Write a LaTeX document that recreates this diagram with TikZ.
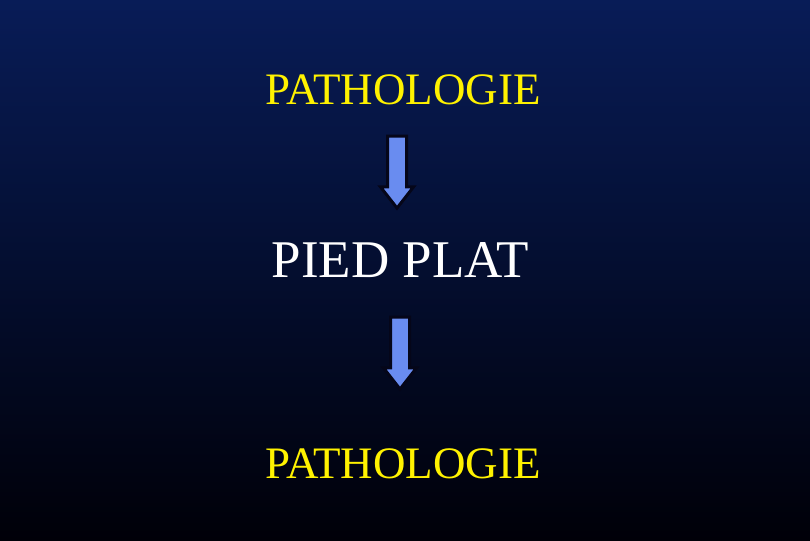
\documentclass[tikz,border=0pt]{standalone}
\usepackage{fontspec}
\setmainfont{Liberation Serif}
\usetikzlibrary{positioning,shapes.arrows}

\definecolor{bgtop}{RGB}{8,28,87}
\definecolor{bgbot}{RGB}{0,0,8}
\definecolor{arrfill}{RGB}{105,140,240}
\definecolor{arrline}{RGB}{5,6,25}

\begin{document}
\begin{tikzpicture}[x=1pt,y=1pt,
    title/.style={text=yellow,font=\fontsize{45}{47}\selectfont,inner sep=0pt,anchor=base},
    middle/.style={text=white,font=\fontsize{53}{55}\selectfont,inner sep=0pt,anchor=base},
    downarrow/.style={single arrow,draw=arrline,line width=3pt,fill=arrfill,rotate=-90,
        minimum height=72pt,minimum width=30pt,inner xsep=0pt,inner ysep=8pt,
        single arrow head extend=7pt,single arrow tip angle=76}]
        \shade[top color=bgtop,bottom color=bgbot] (0,0) rectangle (810,540);
        \useasboundingbox (0,0) rectangle (810,540);
        \node[title] (path1) at (403,435) {PATHOLOGIE};
        \node[middle] (pied) at (400.5,262) {PIED PLAT};
        \node[title] (path2) at (403,61) {PATHOLOGIE};
        \node[downarrow] (arrA) at (397,374) {};
        \node[downarrow] (arrB) at (400,193) {};
      \end{tikzpicture}
\end{document}
